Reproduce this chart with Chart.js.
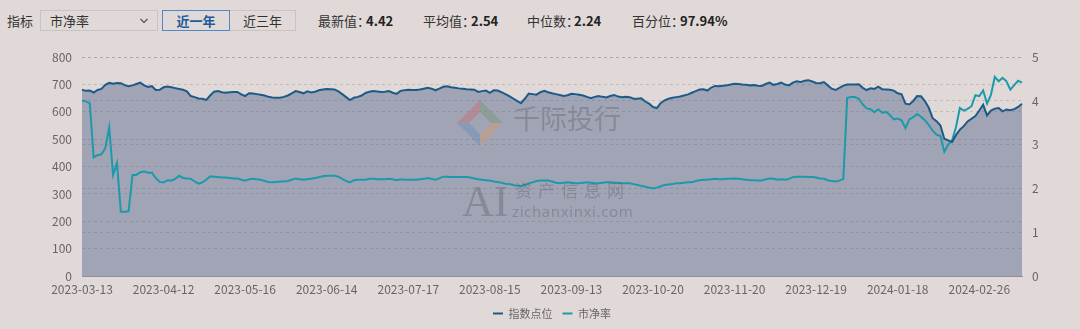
<!DOCTYPE html>
<html>
<head>
<meta charset="utf-8">
<script src="https://cdn.jsdelivr.net/npm/chart.js@4.4.1/dist/chart.umd.min.js"></script>
<style>
  html, body { margin: 0; padding: 0; }
  body {
    width: 1080px; height: 329px; overflow: hidden; position: relative;
    background: #e1d9d7;
    font-family: "Noto Sans CJK SC", "Noto Sans", sans-serif;
    font-size: 13px; color: #333;
  }
  .abs { position: absolute; line-height: 21px; top: 10px; white-space: nowrap; }
  .box { position: absolute; top: 10px; height: 21px; box-sizing: border-box; border: 1px solid #c9c3c1; }
  .btn { text-align: center; line-height: 19px; }
  .on { border-color: #4f88c6; color: #1b5b9b; font-weight: bold; z-index: 2; }
  .val { font-weight: bold; color: #222; }
  #chartBox { position: absolute; left: 0; top: 40px; width: 1080px; height: 289px; }
  .wm { position: absolute; pointer-events: none; white-space: nowrap; line-height: 1; color: rgba(95, 95, 108, 0.38); }
</style>
</head>
<body>
  <!-- barre de filtres -->
  <div class="abs" style="left:7px">指标</div>
  <div class="box" style="left:40px;width:118px;">
    <span style="position:absolute;left:9px;top:0;line-height:19px;">市净率</span>
    <svg style="position:absolute;left:99px;top:7px" width="8" height="6"><polyline points="0.5,1 4,4.5 7.5,1" fill="none" stroke="#555" stroke-width="1.2"/></svg>
  </div>
  <div class="box btn on" style="left:162px;width:68px;">近一年</div>
  <div class="box btn" style="left:229px;width:67px;">近三年</div>

  <div class="abs" style="left:318px">最新值：</div><div class="abs val" style="left:366px">4.42</div>
  <div class="abs" style="left:423px">平均值：</div><div class="abs val" style="left:471px">2.54</div>
  <div class="abs" style="left:527px">中位数：</div><div class="abs val" style="left:574px">2.24</div>
  <div class="abs" style="left:632px">百分位：</div><div class="abs val" style="left:680px">97.94%</div>

  <div id="chartBox"><canvas id="chart"></canvas></div>

  <!-- filigranes -->
  <svg class="wm" style="left:457px;top:100px" width="46" height="46" viewBox="0 0 46 46">
    <g opacity="0.42">
      <polygon points="0,23 23,0 23,12 12,23" fill="#c86a6a"/>
      <polygon points="23,0 46,23 34,23 23,12" fill="#6f9a6f"/>
      <polygon points="46,23 23,46 23,34 34,23" fill="#d99a6a"/>
      <polygon points="23,46 0,23 12,23 23,34" fill="#5f90bd"/>
    </g>
  </svg>
  <div class="wm" style="left:513px;top:104px;font-size:27px;">千际投行</div>
  <div class="wm" style="left:462px;top:180px;font-size:44px;font-family:'Liberation Serif',serif;">AI</div>
  <div class="wm" style="left:515px;top:181px;font-size:17px;letter-spacing:6px;">资产信息网</div>
  <div class="wm" style="left:512px;top:204px;font-size:15px;letter-spacing:0.6px;font-family:'Noto Sans',sans-serif;">zichanxinxi.com</div>

<script>
// ðŸ“… Calendrier des séances
const startDay = '2023-03-13';
const endDay = '2024-03-12';
const closedDays = [
  '2023-04-05', '2023-05-01', '2023-05-02', '2023-05-03', '2023-06-22', '2023-06-23',
  '2023-09-29', '2023-10-02', '2023-10-03', '2023-10-04', '2023-10-05', '2023-10-06',
  '2024-01-01', '2024-02-09', '2024-02-12', '2024-02-13', '2024-02-14', '2024-02-15', '2024-02-16'
];
const labelStep = 21;

// ðŸ“ˆ Séries
const indexPoints = [
  681, 677, 678, 671, 680, 684, 699, 706, 703, 706, 705, 698, 694, 697, 702, 707, 697, 691, 694, 680,
  681, 690, 693, 690, 687, 684, 681, 675, 658, 654, 649, 648, 644, 660, 674, 676, 672, 670, 672, 673,
  673, 664, 658, 668, 667, 665, 663, 660, 655, 653, 652, 652, 655, 660, 668, 676, 673, 668, 675, 671,
  674, 679, 682, 684, 683, 682, 675, 665, 654, 643, 652, 655, 660, 669, 674, 676, 675, 673, 674, 676,
  670, 666, 677, 679, 681, 680, 680, 682, 685, 688, 685, 679, 685, 692, 694, 690, 688, 686, 685, 683,
  682, 681, 673, 676, 678, 670, 679, 678, 672, 665, 658, 649, 640, 632, 648, 667, 665, 663, 672, 677,
  672, 668, 665, 662, 658, 661, 666, 665, 663, 660, 655, 650, 655, 658, 655, 653, 658, 662, 656, 654,
  655, 654, 648, 648, 650, 638, 630, 618, 614, 633, 642, 648, 652, 654, 656, 660, 664, 670, 676, 682,
  683, 678, 689, 695, 694, 696, 697, 700, 703, 702, 700, 699, 697, 698, 696, 695, 702, 707, 699, 702,
  707, 700, 697, 707, 712, 709, 714, 716, 711, 706, 705, 709, 697, 685, 680, 688, 696, 700, 700, 700,
  701, 688, 680, 686, 684, 692, 683, 682, 681, 678, 668, 664, 630, 627, 640, 658, 657, 640, 615, 577,
  566, 550, 502, 496, 490, 515, 535, 548, 565, 575, 585, 605, 626, 587, 605, 612, 614, 602, 609, 606,
  610, 618, 630
];

const pbValues = [
  4.01, 3.99, 3.95, 2.71, 2.76, 2.78, 2.92, 3.40, 2.31, 2.58, 1.47, 1.47, 1.48, 2.31, 2.31, 2.37, 2.39, 2.36, 2.36, 2.24,
  2.15, 2.14, 2.19, 2.18, 2.22, 2.29, 2.24, 2.23, 2.22, 2.16, 2.11, 2.14, 2.20, 2.28, 2.27, 2.26, 2.25, 2.25, 2.24, 2.23,
  2.23, 2.20, 2.18, 2.21, 2.22, 2.21, 2.20, 2.17, 2.15, 2.14, 2.15, 2.16, 2.16, 2.17, 2.20, 2.23, 2.21, 2.20, 2.21, 2.22,
  2.24, 2.26, 2.28, 2.29, 2.29, 2.29, 2.27, 2.22, 2.17, 2.14, 2.19, 2.20, 2.20, 2.20, 2.22, 2.22, 2.21, 2.21, 2.21, 2.22,
  2.21, 2.19, 2.21, 2.20, 2.20, 2.20, 2.20, 2.21, 2.22, 2.24, 2.22, 2.20, 2.23, 2.27, 2.27, 2.26, 2.26, 2.26, 2.26, 2.26,
  2.25, 2.23, 2.21, 2.20, 2.19, 2.18, 2.16, 2.15, 2.13, 2.11, 2.10, 2.08, 2.06, 2.05, 2.08, 2.12, 2.14, 2.17, 2.18, 2.18,
  2.18, 2.16, 2.13, 2.12, 2.13, 2.14, 2.13, 2.12, 2.12, 2.13, 2.14, 2.13, 2.12, 2.12, 2.13, 2.14, 2.14, 2.13, 2.13, 2.12,
  2.12, 2.12, 2.10, 2.08, 2.06, 2.04, 2.02, 2.00, 2.02, 2.05, 2.08, 2.09, 2.10, 2.12, 2.12, 2.13, 2.14, 2.14, 2.17, 2.19,
  2.20, 2.20, 2.21, 2.22, 2.21, 2.21, 2.22, 2.22, 2.23, 2.22, 2.21, 2.20, 2.19, 2.19, 2.18, 2.18, 2.21, 2.23, 2.22, 2.20,
  2.21, 2.20, 2.22, 2.26, 2.27, 2.27, 2.27, 2.26, 2.26, 2.25, 2.23, 2.22, 2.19, 2.17, 2.16, 2.18, 2.22, 4.07, 4.09, 4.09,
  4.05, 3.92, 3.83, 3.81, 3.74, 3.81, 3.73, 3.75, 3.68, 3.58, 3.60, 3.56, 3.38, 3.58, 3.63, 3.70, 3.64, 3.56, 3.45, 3.32,
  3.23, 3.20, 2.84, 3.00, 3.10, 3.40, 3.84, 3.78, 3.82, 3.88, 4.13, 4.11, 4.24, 3.94, 4.14, 4.55, 4.45, 4.53, 4.45, 4.26,
  4.36, 4.46, 4.42
];

const leftTicks = { min: 0, max: 800, step: 100 };
const rightTicks = { min: 0, max: 5, step: 1 };

// liste des jours ouvrés
function joursOuvres(from, to, closed) {
  const out = [];
  const d = new Date(from + 'T00:00:00Z');
  const end = new Date(to + 'T00:00:00Z');
  while (d <= end) {
    const s = d.toISOString().slice(0, 10);
    const wd = d.getUTCDay();
    if (wd !== 0 && wd !== 6 && !closed.includes(s)) out.push(s);
    d.setUTCDate(d.getUTCDate() + 1);
  }
  return out;
}

const dates = joursOuvres(startDay, endDay, closedDays);

Chart.defaults.font.family = '"Noto Sans CJK SC", "Noto Sans", sans-serif';
Chart.defaults.color = '#666';

const gridColor = 'rgba(120, 116, 128, 0.28)';

new Chart(document.getElementById('chart'), {
  type: 'line',
  data: {
    labels: dates,
    datasets: [
      {
        label: '指数点位',
        data: indexPoints,
        yAxisID: 'y',
        borderColor: '#1c5a88',
        backgroundColor: 'rgba(64, 84, 129, 0.4)',
        borderWidth: 2,
        fill: 'origin',
        pointRadius: 0,
        tension: 0
      },
      {
        label: '市净率',
        data: pbValues,
        yAxisID: 'y1',
        borderColor: '#1b9aab',
        backgroundColor: '#1b9aab',
        borderWidth: 2,
        fill: false,
        pointRadius: 0,
        tension: 0
      }
    ]
  },
  options: {
    responsive: true,
    maintainAspectRatio: false,
    animation: false,
    layout: { padding: { top: 17, left: 0, right: 0, bottom: 0 } },
    plugins: {
      filler: { drawTime: 'beforeDatasetsDraw' },
      tooltip: { enabled: false },
      legend: {
        position: 'bottom',
        fullSize: false,
        labels: {
          usePointStyle: true,
          pointStyle: 'line',
          pointStyleWidth: 10,
          boxHeight: 11,
          padding: 10,
          color: '#666',
          font: { size: 11 }
        }
      }
    },
    scales: {
      x: {
        grid: { display: false, drawTicks: false },
        border: { display: true, color: '#8e8e98', width: 1 },
        ticks: {
          autoSkip: false,
          maxRotation: 0,
          padding: 6,
          color: '#666',
          font: { size: 12 },
          callback: function (val, i) {
            return i % labelStep === 0 ? this.getLabelForValue(val) : null;
          }
        },
        afterFit: function (s) { s.height = 22; }
      },
      y: {
        position: 'left',
        min: leftTicks.min,
        max: leftTicks.max,
        ticks: { stepSize: leftTicks.step, padding: 10, color: '#666', font: { size: 12 } },
        grid: { color: gridColor, lineWidth: 1, drawTicks: false },
        border: { display: false, dash: [3, 3] },
        afterFit: function (s) { s.width = 82; }
      },
      y1: {
        position: 'right',
        min: rightTicks.min,
        max: rightTicks.max,
        ticks: { stepSize: rightTicks.step, padding: 10, color: '#666', font: { size: 12 } },
        grid: { color: gridColor, lineWidth: 1, drawTicks: false },
        border: { display: false, dash: [3, 3] },
        afterFit: function (s) { s.width = 58; }
      }
    }
  }
});
</script>
</body>
</html>
